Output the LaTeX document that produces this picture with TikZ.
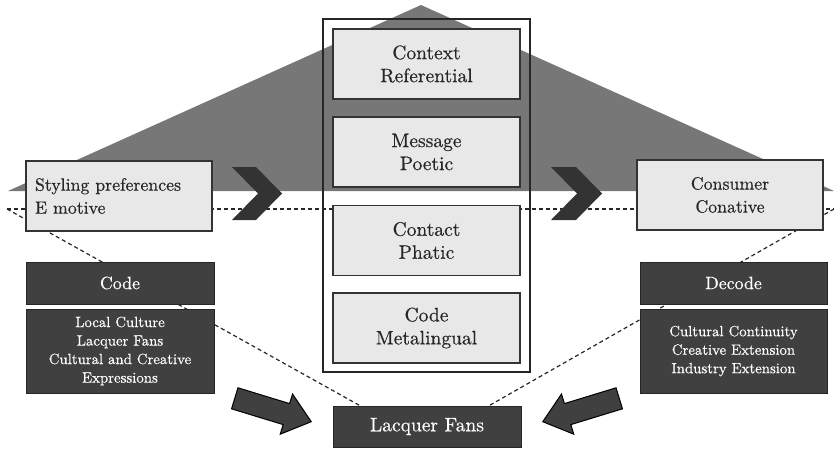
\documentclass[tikz,border=0pt]{standalone}
\usepackage{fontspec}
\setmainfont{lmroman10-regular.otf}[FakeBold=0.45]
\usetikzlibrary{calc,backgrounds}
\definecolor{lightfill}{HTML}{E8E8E8}
\definecolor{darkfill}{HTML}{404040}
\definecolor{trifill}{HTML}{777777}
\definecolor{chevfill}{HTML}{333333}
\newcommand\myfsA{\fontsize{17.8}{23}\selectfont}
\newcommand\myfsB{\fontsize{19.5}{23}\selectfont}
\newcommand\myfsC{\fontsize{14.8}{18.5}\selectfont}
\begin{document}
\begin{tikzpicture}[x=1pt,y=-1pt,
  lightbox/.style={draw=black!80, line width=1.6pt, fill=lightfill, text=black!85, inner sep=0pt, align=center},
  darkbox/.style={draw=black!85, line width=1pt, fill=darkfill, text=white, inner sep=0pt, align=center},
  dashline/.style={line width=1.2pt, dash pattern=on 4pt off 3pt, draw=black!85},
  chev/.style={fill=chevfill, draw=none},
  blockarrow/.style={fill=darkfill, draw=black, line width=1pt, line join=miter}]
\useasboundingbox (0,0) rectangle (834,450);

% side boxes
\node[lightbox, minimum width=186pt, minimum height=70pt, text width=168pt, align=left, font=\myfsA] (sty) at (119,196) {Styling preferences\\E motive};
\node[lightbox, minimum width=186pt, minimum height=70pt, font=\myfsA] (con) at (730,195) {Consumer\\Conative};

% centre frame and boxes
\node[draw=black!85, line width=1.2pt, minimum width=207pt, minimum height=353pt, inner sep=0pt] (frame) at (426.5,195.5) {};
\node[lightbox, minimum width=187pt, minimum height=70pt, font=\myfsB] (ctx) at (426.5,64) {Context\\Referential};
\node[lightbox, minimum width=187pt, minimum height=70pt, font=\myfsB] (msg) at (426.5,152) {Message\\Poetic};
\node[lightbox, minimum width=187pt, minimum height=70pt, font=\myfsB] (cnt) at (426.5,240.5) {Contact\\Phatic};
\node[lightbox, minimum width=187pt, minimum height=70pt, font=\myfsB] (met) at (426.5,328) {Code\\Metalingual};

% dark boxes
\node[darkbox, minimum width=188pt, minimum height=42pt, font=\myfsA] (code) at (120,283) {Code};
\node[darkbox, minimum width=188pt, minimum height=84pt, font=\myfsC] (loc) at (120,351) {Local Culture\\Lacquer Fans\\Cultural and Creative\\Expressions};
\node[darkbox, minimum width=187pt, minimum height=42pt, font=\myfsA] (dec) at (733.5,283) {Decode};
\node[darkbox, minimum width=187pt, minimum height=84pt, font=\myfsC] (cul) at (733.5,351) {Cultural Continuity\\Creative Extension\\Industry Extension};
\node[darkbox, minimum width=188pt, minimum height=41pt, font=\myfsB] (lf) at (427,426.5) {Lacquer Fans};

\coordinate (dl) at (7,209);
\coordinate (dr) at (834,209);

\begin{scope}[on background layer]
  \fill[trifill] (8,191) -- (421,5) -- (834,191) -- cycle;
  \draw[dashline] (dl) -- (dr);
  \draw[dashline] (dl) -- ($(lf.north west)!0.144!(lf.north east)$);
  \draw[dashline] (dr) -- ($(lf.north west)!0.83!(lf.north east)$);
\end{scope}

% chevrons
\fill[chev] (232,167) -- (256,167) -- (282,193.5) -- (256,220) -- (232,220) -- (258,193.5) -- cycle;
\fill[chev] (551,167) -- (576,167) -- (602,193.5) -- (576,220) -- (551,220) -- (577,193.5) -- cycle;

% block arrows
\begin{scope}[shift={(273,410)}, rotate=-17]
  \draw[blockarrow] (-40,-11) -- (14,-11) -- (14,-21) -- (40,0) -- (14,21) -- (14,11) -- (-40,11) -- cycle;
\end{scope}
\begin{scope}[shift={(581,410)}, rotate=197]
  \draw[blockarrow] (-40,-11) -- (14,-11) -- (14,-21) -- (40,0) -- (14,21) -- (14,11) -- (-40,11) -- cycle;
\end{scope}
\end{tikzpicture}
\end{document}
